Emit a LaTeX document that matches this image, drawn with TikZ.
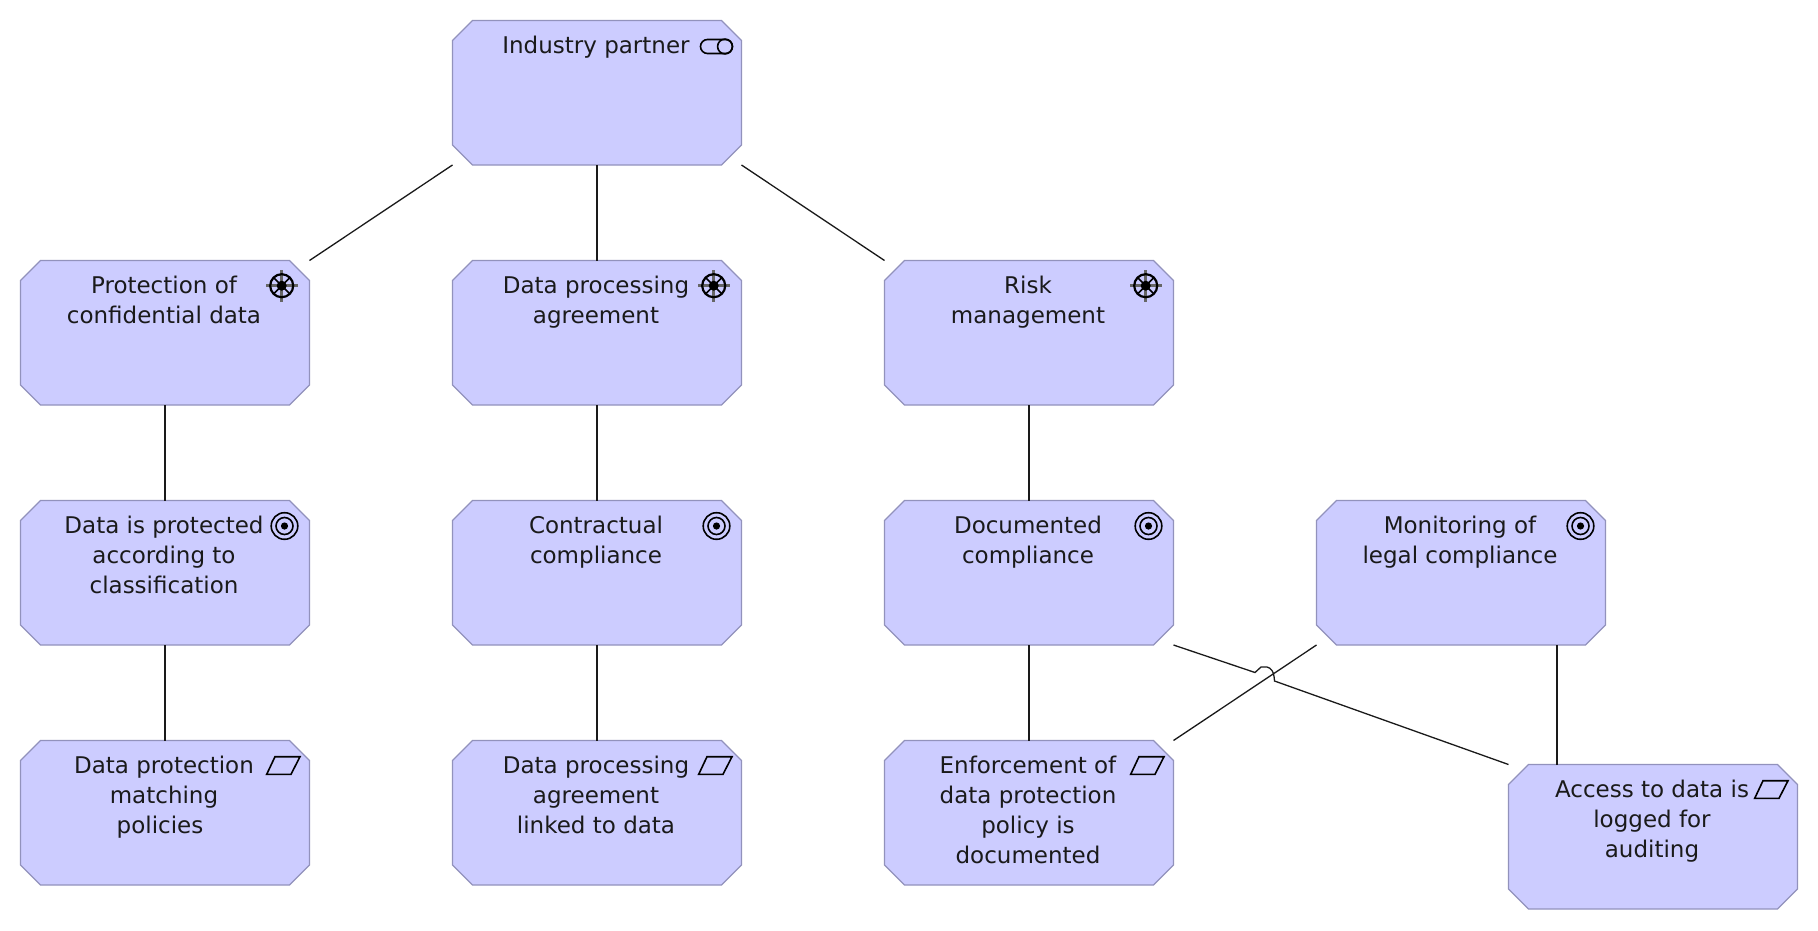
\documentclass[tikz,border=0pt]{standalone}
\usepackage{fontspec}
\setmainfont{DejaVu Sans}
\definecolor{elemfill}{HTML}{CCCCFF}
\definecolor{elemline}{HTML}{9292BC}
\definecolor{inkdark}{HTML}{1A1A1A}
\tikzset{
  elemframe/.style={rectangle, minimum width=289pt, minimum height=144.5pt, inner sep=0pt, outer sep=0pt},
  elemskin/.style={fill=elemfill, draw=elemline, line width=1.3pt, line join=miter},
  elemtext/.style={anchor=north, inner sep=0pt, outer sep=0pt, align=center, text=inkdark,
    font=\fontsize{23}{30}\selectfont, yshift=-12.6pt},
  conn/.style={draw=inkdark, line width=1.3pt},
  iconline/.style={draw=black, line width=1.6pt},
  pics/collabicon/.style={code={
    \draw[iconline] (-34,19) -- (-16,19) arc[start angle=-90,end angle=90,radius=7] -- (-34,33) arc[start angle=90,end angle=270,radius=7] -- cycle;
    \draw[iconline] (-16.5,26) circle (7.4);
  }},
  pics/drivericon/.style={code={
    \foreach \k in {0,90,180,270} \draw[draw=black!60, line width=2.6pt] (-27.8,25.2) -- ++(\k:15.8);
    \draw[draw=black, line width=2.2pt] (-27.8,25.2) circle (11.5);
    \foreach \k in {45,135,225,315} \draw[draw=black, line width=1.6pt] (-27.8,25.2) -- ++(\k:11.5);
    \fill[black] (-27.8,25.2) circle (5);
  }},
  pics/goalicon/.style={code={
    \draw[iconline] (-25,25.5) circle (13.3);
    \draw[iconline] (-25,25.5) circle (8.5);
    \fill[black] (-25,25.5) circle (3.6);
  }},
  pics/reqicon/.style={code={
    \draw[iconline, line join=miter] (-42.8,33.8) -- (-18.5,33.8) -- (-9.5,16.2) -- (-34.5,16.2) -- cycle;
  }},
}
% name, left x, top y, text, icon
\newcommand{\elem}[5]{%
  \node[elemframe] (#1) at ({#2+144.5},{#3+72.25}) {};
  \draw[elemskin] ([xshift=20pt]#1.north west) -- ([xshift=-20pt]#1.north east)
    -- ([yshift=-20pt]#1.north east) -- ([yshift=20pt]#1.south east)
    -- ([xshift=-20pt]#1.south east) -- ([xshift=20pt]#1.south west)
    -- ([yshift=20pt]#1.south west) -- ([yshift=-20pt]#1.north west) -- cycle;
  \node[elemtext] (#1-t) at ([xshift=-1pt]#1.north) {\rule{0pt}{20pt}#4};
  \path (#1.north east) pic {#5};
}
\begin{document}
\begin{tikzpicture}[x=1pt,y=-1pt]
\useasboundingbox (0,0) rectangle (1818,930);
\fill[white] (0,0) rectangle (1818,930);
\elem{partner}{452.5}{20.5}{Industry partner}{collabicon}
\elem{protect}{20.5}{260.5}{Protection of\\confidential data}{drivericon}
\elem{dpa}{452.5}{260.5}{Data processing\\agreement}{drivericon}
\elem{risk}{884.5}{260.5}{Risk\\management}{drivericon}
\elem{classif}{20.5}{500.5}{Data is protected\\according to\\classification}{goalicon}
\elem{contract}{452.5}{500.5}{Contractual\\compliance}{goalicon}
\elem{docum}{884.5}{500.5}{Documented\\compliance}{goalicon}
\elem{monitor}{1316.5}{500.5}{Monitoring of\\legal compliance}{goalicon}
\elem{policies}{20.5}{740.5}{Data protection\\matching\\policies\hspace*{8pt}}{reqicon}
\elem{linked}{452.5}{740.5}{Data processing\\agreement\\linked to data}{reqicon}
\elem{enforce}{884.5}{740.5}{Enforcement of\\data protection\\policy is\\documented}{reqicon}
\elem{access}{1508.5}{764.5}{Access to data is\\logged for\\auditing}{reqicon}
\coordinate (accesstop) at (1557,0);
\draw[conn] (partner.south west) -- (protect.north east);
\draw[conn] (partner.south) -- (dpa.north);
\draw[conn] (partner.south east) -- (risk.north west);
\draw[conn] (protect.south) -- (classif.north);
\draw[conn] (classif.south) -- (policies.north);
\draw[conn] (dpa.south) -- (contract.north);
\draw[conn] (contract.south) -- (linked.north);
\draw[conn] (risk.south) -- (docum.north);
\draw[conn] (docum.south) -- (enforce.north);
\draw[conn] (enforce.north east) -- (monitor.south west);
\draw[conn] (monitor.south -| accesstop) -- (access.north -| accesstop);
\draw[conn] (docum.south east) -- (1255,672.5) -- (1261,667) -- (1267,667)
  .. controls (1271,668) and (1274,671) .. (1274.5,681) -- (access.north west);
\end{tikzpicture}
\end{document}
